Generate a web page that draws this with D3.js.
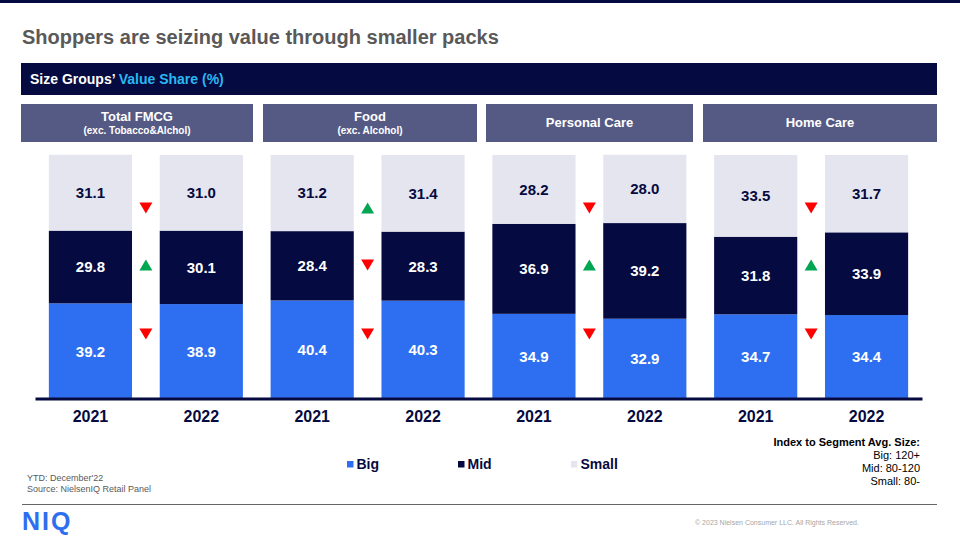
<!DOCTYPE html>
<html>
<head>
<meta charset="utf-8">
<script src="https://cdn.jsdelivr.net/npm/d3@7/dist/d3.min.js"></script>
<style>
  html, body { margin: 0; padding: 0; background: #fff; }
  svg { display: block; font-family: "Liberation Sans", Arial, Helvetica, sans-serif; }
</style>
</head>
<body>
<svg id="chart" width="960" height="540"></svg>
<script>
// ---- data ----
const panels = ["Total FMCG", "Food", "Personal Care", "Home Care"];
const panelSubtitles = ["(exc. Tobacco&Alchol)", "(exc. Alcohol)", "", ""];
const years = ["2021", "2022"];
const segments = ["Big", "Mid", "Small"];
// values per panel: [2021, 2022]
const bigValues   = [[39.2, 38.9], [40.4, 40.3], [34.9, 32.9], [34.7, 34.4]];
const midValues   = [[29.8, 30.1], [28.4, 28.3], [36.9, 39.2], [31.8, 33.9]];
const smallValues = [[31.1, 31.0], [31.2, 31.4], [28.2, 28.0], [33.5, 31.7]];
const indexNotes = ["Index to Segment Avg. Size:", "Big: 120+", "Mid: 80-120", "Small: 80-"];
const footNotes = ["YTD: December'22", "Source: NielsenIQ Retail Panel"];

// ---- styles ----
const C = {
  navy: "#050A40", header: "#555A85", big: "#2D6FF0", mid: "#050A40", small: "#E5E5EF",
  cyan: "#29B8F2", up: "#00A651", down: "#FF0000", gray: "#595959"
};
const segColor = { Big: C.big, Mid: C.mid, Small: C.small };
const segText = { Big: "#fff", Mid: "#fff", Small: C.navy };

const svg = d3.select("#chart");

// top strip
svg.append("rect").attr("x", 0).attr("y", 0).attr("width", 960).attr("height", 3).attr("fill", C.navy);

// title
svg.append("text").attr("x", 22).attr("y", 44).attr("font-size", 20).attr("font-weight", "bold")
  .attr("fill", C.gray).text("Shoppers are seizing value through smaller packs");

// banner
svg.append("rect").attr("x", 21).attr("y", 63).attr("width", 916).attr("height", 32).attr("fill", C.navy);
const bt = svg.append("text").attr("x", 30).attr("y", 84).attr("font-size", 14).attr("font-weight", "bold");
bt.append("tspan").attr("fill", "#fff").text("Size Groups\u2019 ");
bt.append("tspan").attr("fill", C.cyan).text("Value Share (%)");

// panel headers
const headerX = [[21, 253], [263, 477], [486, 693], [703, 937]];
panels.forEach((p, i) => {
  const [x0, x1] = headerX[i];
  svg.append("rect").attr("x", x0).attr("y", 104).attr("width", x1 - x0).attr("height", 38).attr("fill", C.header);
  const cx = (x0 + x1) / 2;
  if (panelSubtitles[i]) {
    svg.append("text").attr("x", cx).attr("y", 121).attr("text-anchor", "middle").attr("font-size", 13)
      .attr("font-weight", "bold").attr("fill", "#fff").text(p);
    svg.append("text").attr("x", cx).attr("y", 134).attr("text-anchor", "middle").attr("font-size", 10)
      .attr("font-weight", "bold").attr("fill", "#fff").text(panelSubtitles[i]);
  } else {
    svg.append("text").attr("x", cx).attr("y", 127).attr("text-anchor", "middle").attr("font-size", 13)
      .attr("font-weight", "bold").attr("fill", "#fff").text(p);
  }
});

// build bar data
const bars = [];
panels.forEach((p, i) => {
  years.forEach((yr, j) => {
    bars.push({ key: p + "|" + yr, panel: i, year: yr, Big: bigValues[i][j], Mid: midValues[i][j], Small: smallValues[i][j] });
  });
});

const x = d3.scaleBand().domain(bars.map(d => d.key)).range([35, 922]).paddingInner(0.25).paddingOuter(0.125);
const y = d3.scaleLinear().domain([0, 100]).range([399, 155]);

const stack = d3.stack().keys(segments);
const series = stack(bars);

const g = svg.append("g");
series.forEach(s => {
  const seg = s.key;
  g.selectAll(null).data(s).join("rect")
    .attr("x", d => x(d.data.key)).attr("width", x.bandwidth())
    .attr("y", d => y(d[1])).attr("height", d => y(d[0]) - y(d[1]))
    .attr("fill", segColor[seg]);
  g.selectAll(null).data(s).join("text")
    .attr("x", d => x(d.data.key) + x.bandwidth() / 2)
    .attr("y", d => (y(d[0]) + y(d[1])) / 2)
    .attr("dy", "0.36em").attr("text-anchor", "middle")
    .attr("font-size", 15).attr("font-weight", "bold").attr("fill", segText[seg])
    .text(d => d.data[seg].toFixed(1));
});

// axis
const axis = d3.axisBottom(x).tickSize(0).tickPadding(12).tickFormat(k => k.split("|")[1]);
const ax = svg.append("g").attr("transform", "translate(0,398.5)").call(axis);
ax.select(".domain").attr("stroke", C.navy).attr("stroke-width", 3);
ax.selectAll("text").attr("font-size", 16).attr("font-weight", "bold").attr("fill", C.navy)
  .attr("font-family", "'Liberation Sans', Arial, sans-serif");

// change arrows
const arrowY = { Small: 208, Mid: 265, Big: 334 };
const tri = (up) => up ? "M0,-5.5L6.5,5.5L-6.5,5.5Z" : "M0,5.5L6.5,-5.5L-6.5,-5.5Z";
panels.forEach((p, i) => {
  const x1 = x(p + "|2021") + x.bandwidth();
  const x2 = x(p + "|2022");
  const cx = (x1 + x2) / 2;
  const vals = { Big: bigValues[i], Mid: midValues[i], Small: smallValues[i] };
  segments.forEach(seg => {
    const up = vals[seg][1] > vals[seg][0];
    svg.append("path").attr("d", tri(up)).attr("transform", `translate(${cx},${arrowY[seg]})`)
      .attr("fill", up ? C.up : C.down);
  });
});

// legend
const legendX = [347, 458, 571];
segments.forEach((seg, i) => {
  svg.append("rect").attr("x", legendX[i]).attr("y", 461).attr("width", 6.5).attr("height", 6.5).attr("fill", segColor[seg]);
  svg.append("text").attr("x", legendX[i] + 9.5).attr("y", 469).attr("font-size", 14).attr("font-weight", "bold")
    .attr("fill", C.navy).text(seg);
});

// index notes
indexNotes.forEach((t, i) => {
  svg.append("text").attr("x", 920).attr("y", 446 + i * 13).attr("text-anchor", "end").attr("font-size", 11)
    .attr("font-weight", i === 0 ? "bold" : "normal").attr("fill", "#000").text(t);
});

// footnotes
footNotes.forEach((t, i) => {
  svg.append("text").attr("x", 27).attr("y", 481 + i * 11).attr("font-size", 9).attr("fill", C.gray).text(t);
});

// separator
svg.append("line").attr("x1", 22).attr("x2", 937).attr("y1", 504.5).attr("y2", 504.5).attr("stroke", "#666").attr("stroke-width", 1);

// logo
svg.append("text").attr("x", 22).attr("y", 529.5).attr("font-size", 25).attr("font-weight", "bold")
  .attr("fill", C.big).attr("letter-spacing", 2).text("NIQ");

// copyright
svg.append("text").attr("x", 695).attr("y", 525).attr("font-size", 7).attr("fill", "#A6A6A6")
  .text("\u00A9 2023 Nielsen Consumer LLC. All Rights Reserved.");
</script>
</body>
</html>
